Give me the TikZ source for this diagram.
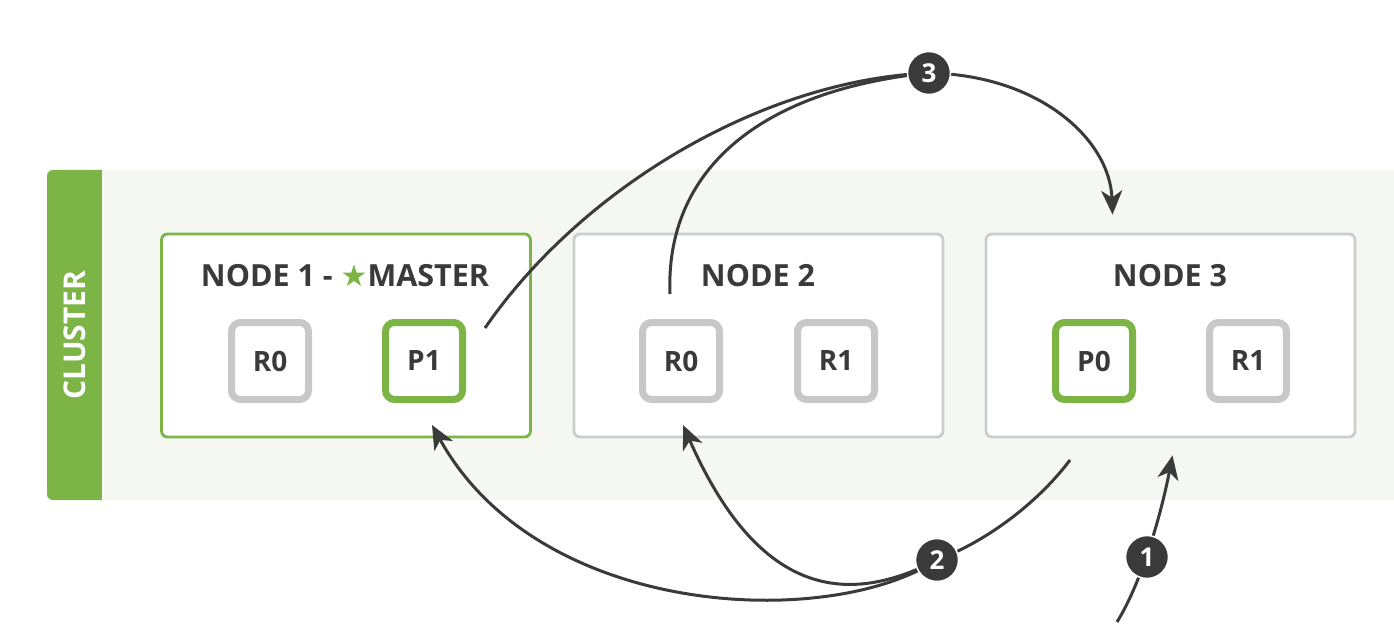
\documentclass[tikz,border=0pt]{standalone}
\usepackage{fontspec}
\setmainfont{Open Sans}
\newfontfamily\symfont{DejaVu Sans}
\usetikzlibrary{arrows.meta,calc}
\definecolor{esgreen}{RGB}{124,180,70}
\definecolor{esgray}{RGB}{200,200,200}
\definecolor{esboxgray}{RGB}{205,205,205}
\definecolor{esdark}{RGB}{58,58,58}
\definecolor{esbg}{RGB}{245,247,242}
\pgfdeclarelayer{back}
\pgfdeclarelayer{lines}
\pgfsetlayers{back,lines,main}
\begin{document}
\begin{tikzpicture}[x=1pt,y=-1pt,
  nodebox/.style={draw=esboxgray, line width=2.8pt, rounded corners=6pt, fill=white,
    minimum width=369pt, minimum height=203pt, inner sep=0pt},
  greenbox/.style={nodebox, draw=esgreen},
  shard/.style={draw=esgray, line width=7pt, rounded corners=9pt, fill=white,
    minimum width=77pt, minimum height=77pt, inner sep=0pt,
    font=\fontsize{28}{28}\selectfont\bfseries, text=esdark},
  primary/.style={shard, draw=esgreen},
  title/.style={font=\fontsize{30.5}{30.5}\selectfont\bfseries, text=esdark, anchor=base, inner sep=0pt},
  num/.style={circle, fill=esdark, draw=white, line width=1.5pt, minimum size=43pt, inner sep=0pt,
    text=white, font=\fontsize{26}{26}\selectfont\bfseries},
  conn/.style={draw=esdark, line width=3pt},
  arr/.style={conn, -{Stealth[length=24pt, width=21pt, inset=7pt]}}
]
\useasboundingbox (0,0) rectangle (1394,636);

% step markers (on top)
\node[num] (c1) at (1147,557) {1};
\node[num] (c2) at (937,560) {2};
\node[num] (c3) at (929,73) {3};

\begin{pgfonlayer}{back}
  \fill[white] (0,0) rectangle (1394,636);
  \fill[esbg] (47,170) rectangle (1394,500);
  \fill[esgreen, rounded corners=6pt] (47,170) rectangle (110,500);
  \fill[esbg] (102,170) rectangle (112,500);
  \node[rotate=90, text=white, font=\fontsize{30}{30}\selectfont\bfseries, inner sep=0pt] (cluster) at (75,335) {CLUSTER};

  \node[greenbox] (node1) at (346,335.5) {};
  \node[nodebox] (node2) at (758.5,335.5) {};
  \node[nodebox] (node3) at (1170.5,335.5) {};

  \node[title] (t1) at (345,287) {NODE 1 - {\symfont\fontsize{30}{30}\selectfont\color{esgreen}★}MASTER};
  \node[title] (t2) at (758,287) {NODE 2};
  \node[title] (t3) at (1170,287) {NODE 3};

  \node[shard] (n1r0) at (270,361) {R0};
  \node[primary] (n1p1) at (424,361) {P1};
  \node[shard] (n2r0) at (681,361) {R0};
  \node[shard] (n2r1) at (836,361) {R1};
  \node[primary] (n3p0) at (1094,361) {P0};
  \node[shard] (n3r1) at (1248,361) {R1};
\end{pgfonlayer}

\coordinate (client) at (1117,622);

\begin{pgfonlayer}{lines}
  % step 1: request arrives at node 3
  \draw[arr] (client) .. controls (1140,585) and (1160,520) .. ($(node3.south)+(2,17)$);
  % step 2: node 3 forwards to replicas
  \draw[conn] ($(n3p0.south)+(-24,57)$) .. controls (1040,500) and (990,540) .. (c2.center);
  \draw[arr] (c2.center) .. controls (830,630) and (540,620) .. ($(n1p1.south)+(8,22)$);
  \draw[arr] (c2.center) .. controls (850,605) and (760,600) .. ($(n2r0.south)+(2,22)$);
  % step 3: replicas report back, node 3 answers
  \draw[conn] ($(n1p1.east)+(19,-33)$) .. controls (580,190) and (760,80) .. (c3.center);
  \draw[conn] ($(n2r0.north)+(-11,-25)$) .. controls (665,170) and (760,90) .. (c3.center);
  \draw[arr] (c3.center) .. controls (1040,75) and (1110,140) .. ($(node3.north)+(-58,-18)$);
\end{pgfonlayer}
\end{tikzpicture}
\end{document}
